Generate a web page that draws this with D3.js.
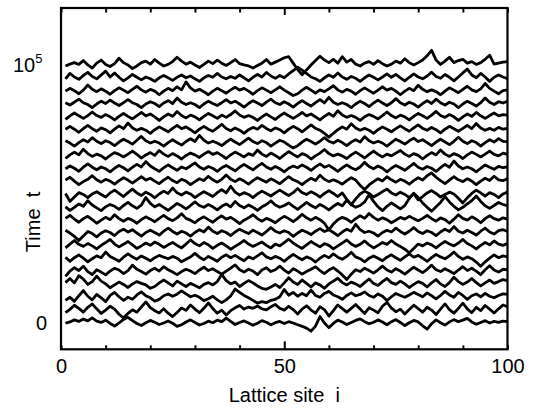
<!DOCTYPE html>
<html>
<head>
<meta charset="utf-8">
<script src="https://cdn.jsdelivr.net/npm/d3@7"></script>
<style>
  html, body { margin: 0; padding: 0; background: #fff; }
  svg { display: block; }
  text { font-family: "Liberation Sans", Arial, Helvetica, sans-serif; fill: #000; }
</style>
</head>
<body>
<svg id="chart" width="535" height="411"></svg>
<script>
// Lattice sites along the interface
const sites = d3.range(1, 101);

// Sampling times (units of 10^3), one profile per time
const times = [0, 5, 10, 15, 20, 25, 30, 35, 40, 45, 50, 55, 60, 65, 70, 75, 80, 85, 90, 95, 100];

// Interface height profiles h_i(t) (units of 10^3), drawn offset by their sampling time
const h0 = [0.3,0.8,1.6,1.0,1.9,1.2,2.4,1.1,0.6,1.5,0.2,-0.8,0.4,1.8,2.6,1.3,0.2,-0.6,0.5,1.4,
0.7,-0.2,0.4,1.2,0.3,-0.9,-0.3,0.8,1.6,0.6,-0.4,0.2,1.1,0.5,1.5,0.9,2.3,1.0,-0.2,0.6,
1.2,0.4,-0.5,0.3,1.3,0.7,-0.3,0.5,1.0,0.2,0.9,0.4,-0.3,-0.9,-1.6,-2.8,-0.8,2.9,0.4,-1.4,
0.2,1.5,0.8,-0.2,0.6,1.4,2.0,0.9,0.1,0.7,1.6,0.8,-0.3,0.9,1.7,0.6,-0.6,0.5,1.4,0.8,
-0.7,-2.0,0.1,1.6,0.5,-0.4,0.8,1.7,0.9,1.5,2.2,0.8,-0.1,0.6,1.3,0.4,1.0,0.6,1.1,0.9];
const h5 = [-0.6,0.7,2.3,1.1,-0.4,1.5,2.8,0.9,-0.9,0.4,1.9,0.8,-1.2,-2.6,-0.9,0.5,-0.4,1.6,3.6,1.4,
0.2,-0.7,0.9,-0.8,-2.1,-0.5,1.2,0.3,2.4,0.8,-0.6,1.1,3.2,1.0,-0.8,0.4,-1.5,0.2,1.3,2.2,
0.8,1.6,1.1,2.0,0.9,0.5,1.7,2.6,1.1,0.4,1.9,0.6,-1.1,0.8,2.1,0.4,-0.8,1.7,0.6,-1.9,
0.2,2.4,1.0,-0.4,1.1,2.6,0.8,-0.9,1.3,0.4,-0.6,1.9,3.4,1.2,-0.2,0.8,-1.1,0.6,2.3,1.0,
-0.4,1.5,0.4,-1.3,0.8,2.8,0.6,-0.8,1.1,3.1,0.9,-0.6,1.5,0.2,2.2,0.8,-0.7,0.9,2.4,1.7];
const h10 = [-0.8,0.4,-1.2,1.0,3.0,0.8,-0.6,1.5,0.2,-1.3,1.1,2.3,0.6,-0.8,0.4,-0.4,1.3,2.5,1.0,0.2,
-1.1,-0.4,1.0,1.7,0.8,1.6,2.9,1.7,0.6,1.2,0.4,-0.9,-0.2,0.8,-0.6,-1.7,-0.6,0.9,3.6,2.3,
1.1,0.2,-0.8,-1.9,-1.3,-1.7,-0.8,-0.4,0.6,3.4,1.2,2.3,0.8,1.9,1.0,3.2,1.1,0.4,1.9,2.7,
1.3,0.6,-0.4,1.1,2.1,1.0,1.5,2.5,1.1,0.4,1.7,0.8,-0.9,0.6,1.9,1.1,0.4,1.3,2.3,1.5,
0.6,2.1,1.0,-0.2,1.1,2.7,1.3,0.4,2.3,1.1,-0.4,1.0,1.7,0.6,1.9,0.8,0.2,1.1,1.7,1.5];
const h15 = [1.1,2.7,1.0,3.8,2.5,0.4,1.5,3.6,1.7,0.6,-0.9,0.2,1.3,0.4,-0.8,0.6,1.5,0.8,0.2,-1.1,
-0.4,1.0,2.1,1.0,-0.2,1.7,0.6,-0.4,0.8,0.0,-0.9,0.4,1.1,0.2,1.5,4.3,1.9,0.6,1.3,-0.4,
0.8,1.9,1.0,-0.2,-1.1,-1.5,-0.6,0.4,-0.8,1.0,3.0,1.3,0.4,2.1,0.8,-0.6,1.0,0.2,-1.1,0.6,
1.7,2.8,1.1,0.2,1.3,0.6,-0.4,1.1,2.5,0.8,0.0,1.5,2.7,1.1,0.4,1.7,0.6,-0.8,0.4,1.5,
0.8,-0.6,1.0,2.3,0.6,-0.4,1.1,3.2,1.5,0.4,1.3,2.7,1.1,-0.2,1.0,2.1,0.8,1.5,2.3,1.9];
const h20 = [-1.5,0.6,1.9,0.8,2.5,0.4,-0.8,1.1,0.2,-0.9,0.6,1.7,1.0,-0.4,0.8,2.9,1.3,0.4,-0.6,0.8,
1.7,0.6,2.3,1.1,0.2,-0.8,0.4,1.3,0.6,-0.4,1.0,2.1,0.8,1.5,0.4,-0.6,0.6,1.7,3.0,1.1,
0.2,1.3,0.6,-0.8,1.0,1.9,0.4,1.1,2.5,1.0,-0.2,1.5,0.6,-0.6,0.4,1.3,2.3,0.8,-0.4,1.0,
1.9,0.6,-0.9,-2.7,-0.6,1.1,0.4,1.7,0.8,-0.2,1.1,2.5,1.0,0.2,1.5,0.6,-0.6,0.8,2.1,1.0,
0.0,1.3,2.9,1.1,0.4,1.5,0.6,-0.4,1.0,2.3,0.8,1.7,0.6,-0.8,1.1,2.7,1.0,0.2,1.3,1.1];
const h25 = [1.0,-0.6,0.8,1.9,0.6,-0.8,0.4,1.5,0.8,3.0,1.3,0.4,-0.6,1.0,2.3,1.1,0.2,1.5,0.6,-0.4,
0.8,1.7,1.0,0.4,1.3,0.6,-0.8,0.2,1.1,2.5,1.0,0.0,1.3,0.4,-0.6,1.0,1.9,0.8,1.7,0.6,
-0.4,1.1,0.4,1.5,2.7,1.1,0.4,1.3,0.6,-0.6,0.8,2.1,1.0,0.0,1.1,0.4,-0.9,0.6,1.7,0.8,
2.3,1.0,0.2,1.3,2.9,1.1,0.4,-0.8,0.6,1.5,0.6,-0.4,1.0,1.9,0.8,-0.2,1.1,2.3,1.0,1.7,
0.6,-0.6,0.8,2.1,1.1,0.4,1.5,3.0,1.3,0.2,1.1,0.4,-0.9,-2.5,-0.8,0.6,1.9,0.8,1.5,1.1];
const h30 = [-0.4,1.1,2.5,1.0,0.2,1.3,0.4,-0.8,0.6,1.7,2.9,1.1,0.0,1.0,2.1,0.8,-0.6,0.4,1.5,0.6,
1.9,1.0,-0.2,0.8,1.7,0.6,-0.4,1.1,2.7,1.3,0.4,1.7,0.8,-0.6,0.6,1.5,0.4,-0.9,0.2,1.3,
2.5,1.1,0.2,1.0,1.9,0.6,-0.4,1.1,0.4,1.7,3.0,1.5,0.4,-0.6,0.8,2.1,1.0,0.0,1.3,0.6,
-0.8,0.4,1.5,2.7,1.1,0.2,1.0,2.3,0.8,-0.4,0.6,1.7,1.0,2.5,1.1,0.2,-0.9,-2.3,-0.6,1.1,
0.4,1.5,0.8,-0.4,1.0,2.1,1.1,0.4,1.5,2.9,1.3,0.4,-0.8,0.6,1.7,0.8,2.3,1.1,0.6,1.3];
const h35 = [1.5,0.4,-0.9,-2.5,-0.8,1.0,0.2,-1.1,0.4,1.3,0.6,-0.6,1.0,1.9,0.8,1.7,0.4,-0.8,0.6,1.5,
0.6,-0.4,1.1,2.3,1.0,0.0,1.1,0.4,-0.8,0.6,1.7,0.8,2.7,1.1,0.2,1.3,0.6,-0.6,0.8,1.9,
1.0,0.2,1.5,0.6,-0.4,1.0,2.5,1.1,0.4,1.3,0.6,-0.9,0.4,1.5,0.8,-0.2,1.1,2.1,1.0,1.7,
0.6,-0.6,0.8,1.9,1.1,3.8,1.7,0.6,1.1,0.4,-0.8,0.6,1.5,0.8,2.3,1.0,0.0,1.1,2.5,1.0,
0.2,1.3,0.6,-0.6,0.8,1.9,1.0,2.9,1.1,0.4,1.5,0.6,-0.4,1.1,2.3,0.8,0.0,1.3,1.7,1.0];
const h40 = [1.1,2.3,0.8,-0.4,1.0,1.9,0.6,-0.8,0.4,1.5,0.6,2.5,1.0,0.0,1.1,0.4,-0.8,0.6,1.7,0.8,
-0.2,1.1,2.3,1.0,0.2,1.3,2.9,1.1,0.4,-0.6,0.8,1.7,0.6,-0.4,1.0,2.1,0.8,1.5,0.4,-0.9,
0.4,1.3,2.5,1.0,0.0,1.1,0.4,-0.6,0.8,1.9,1.0,-0.2,1.1,2.7,1.3,0.4,1.5,0.6,-0.8,-3.4,
-1.1,0.6,1.5,0.8,-0.4,1.0,2.1,1.1,3.0,1.5,0.4,1.3,0.6,-0.6,0.4,1.5,0.8,1.9,1.0,0.2,
1.1,2.3,1.0,0.0,1.3,0.6,-0.8,0.8,2.5,1.1,0.4,1.7,0.8,-0.6,1.0,2.1,1.0,0.4,1.3,0.8];
const h45 = [0.6,-0.8,0.4,1.7,0.8,3.0,1.3,0.2,-0.9,0.6,1.5,0.8,-0.4,1.1,2.3,1.0,0.0,1.3,4.2,1.9,
0.6,1.5,0.4,-0.8,0.6,1.9,1.0,-0.2,1.1,2.5,1.1,0.4,1.5,0.6,-0.6,0.8,1.7,0.6,2.7,1.1,
0.2,1.3,0.4,-0.8,0.6,1.5,2.9,1.3,0.4,1.1,2.1,0.8,-0.4,1.0,2.3,1.1,0.2,1.5,0.6,-0.6,
0.8,1.9,1.0,3.2,1.5,0.4,1.1,2.5,5.3,2.7,0.6,-0.9,0.8,2.1,1.0,-0.2,1.1,3.8,5.9,4.2,
2.1,0.4,-1.1,0.6,2.3,4.6,2.5,0.8,-0.6,0.4,1.7,3.0,4.8,2.7,1.0,0.0,1.1,2.3,1.5,1.0];
const h50 = [0.8,-2.3,-0.6,1.1,0.4,-0.8,0.6,1.5,0.4,-0.6,1.0,2.1,0.8,-0.4,1.1,2.5,1.0,0.0,1.3,0.4,
-0.9,0.6,1.7,0.8,2.9,1.1,0.2,1.3,0.6,-0.8,0.4,1.5,0.6,-0.4,1.1,2.3,1.0,3.6,1.3,0.2,
1.1,0.4,-0.8,0.6,1.7,0.8,-0.2,1.0,2.1,1.0,0.0,1.1,2.7,1.1,0.4,1.5,0.6,-0.6,0.8,1.9,
0.8,-0.4,1.0,-1.5,-3.6,-1.3,0.6,1.7,0.8,-0.6,0.4,1.5,2.5,1.0,0.2,1.3,0.4,-0.8,0.6,-1.7,
-0.4,1.0,1.9,0.8,-0.6,0.4,1.3,0.6,-1.1,-2.9,-0.9,0.8,2.1,1.0,-0.2,1.1,0.4,-0.8,0.6,1.3];
const h55 = [1.0,2.1,0.6,-0.8,0.4,1.3,2.7,1.1,0.2,1.3,0.6,-0.6,0.8,1.9,1.0,-0.2,1.1,2.3,1.0,1.7,
0.6,-0.4,1.0,2.1,0.8,0.0,1.3,0.6,-0.8,0.4,1.5,0.8,2.5,1.1,0.2,1.3,3.0,1.3,0.4,1.5,
0.6,-0.6,0.8,1.9,1.0,0.2,1.5,0.6,-0.4,1.0,2.3,1.1,0.4,-0.8,0.6,1.7,0.8,2.9,1.3,0.4,
1.1,0.4,-0.6,0.8,1.9,1.0,-1.1,-2.7,-0.9,0.4,1.5,0.6,2.3,1.1,0.2,1.3,0.6,-0.6,0.8,1.9,
1.0,2.7,3.8,2.1,0.8,-0.4,1.0,2.3,1.1,0.4,1.5,0.6,-0.8,0.6,1.7,0.8,2.5,1.1,0.8,1.5];
const h60 = [0.4,1.5,0.6,-0.6,1.0,2.3,1.0,0.0,1.1,0.4,-0.8,0.6,1.7,0.8,-0.4,1.0,2.1,1.1,3.2,1.5,
0.4,-0.6,0.8,1.9,0.8,-0.2,1.1,0.4,1.5,2.7,1.1,0.2,1.3,0.6,-0.6,0.8,1.7,0.6,-0.4,1.0,
2.1,1.0,0.0,1.3,2.5,1.1,0.2,1.3,0.4,-0.8,0.6,1.5,0.8,1.9,1.0,-0.2,1.1,2.3,1.0,1.7,
0.6,-0.6,0.8,1.9,0.8,0.0,1.1,2.9,1.3,0.4,1.5,0.6,-0.8,0.6,1.7,0.8,-0.2,1.1,2.5,1.0,
0.2,1.3,0.6,-0.6,0.8,2.1,1.0,3.4,1.5,0.4,1.1,0.4,-0.8,0.6,1.9,1.0,0.2,1.3,0.8,1.1];
const h65 = [-0.6,0.8,1.9,0.8,3.0,1.3,0.2,1.1,0.4,-0.8,0.6,1.7,1.0,0.0,1.1,2.3,1.0,-0.4,0.8,1.7,
0.6,2.5,1.1,0.2,1.3,0.4,-0.8,0.6,1.5,0.8,-0.2,1.1,2.1,1.0,1.7,0.6,-0.6,0.8,1.9,1.0,
0.0,1.3,0.6,2.7,1.1,0.2,1.5,0.6,-0.6,0.8,2.1,1.0,0.0,1.3,0.6,-0.8,0.4,1.5,2.9,1.3,
0.4,1.1,0.4,-0.6,0.8,1.9,0.8,-0.4,1.0,2.3,1.0,0.0,1.1,0.4,1.5,2.5,1.1,0.2,1.3,0.6,
-0.8,0.6,1.7,0.8,2.7,1.1,0.2,1.3,0.6,-0.6,0.8,1.9,1.0,0.0,1.1,2.3,1.0,0.4,1.5,1.0];
const h70 = [1.3,0.4,-0.8,0.6,1.7,0.8,2.5,1.1,0.2,1.3,0.6,-0.6,0.8,1.9,1.0,0.0,1.5,3.0,1.3,0.4,
1.1,0.4,-0.8,0.6,1.7,0.6,-0.4,1.0,2.1,1.0,3.4,1.5,0.4,1.1,0.4,-0.6,0.8,1.9,0.8,-0.2,
1.1,2.3,1.0,0.2,1.3,0.6,-0.8,0.4,1.5,0.8,-0.4,-1.5,-0.6,0.8,1.9,1.0,0.0,1.1,2.5,1.1,
0.4,1.5,0.6,-0.6,0.8,1.7,0.8,2.9,1.3,0.4,1.1,0.4,-0.8,0.6,1.9,1.0,0.0,1.3,2.3,1.0,
1.7,0.6,-0.6,0.8,1.9,0.8,-0.2,1.1,2.7,1.1,0.2,1.3,0.6,-0.8,0.6,1.7,0.8,2.1,1.1,1.0];
const h75 = [0.8,1.9,0.8,-0.4,1.0,2.3,1.0,0.0,1.3,0.6,-0.6,0.8,2.1,1.0,3.2,1.3,0.4,1.1,0.4,-0.8,
0.6,1.7,0.8,-0.2,1.1,2.3,1.0,1.7,0.6,-0.6,0.8,1.9,0.8,0.0,1.3,2.7,1.1,0.2,1.3,0.4,
-0.8,0.6,1.5,0.8,2.3,1.1,0.2,1.3,0.6,-0.6,0.8,1.9,1.0,-0.2,1.1,2.5,1.1,0.4,-0.8,-2.3,
-0.8,0.6,1.7,0.8,2.9,1.3,0.4,1.1,0.4,-0.8,0.6,1.7,0.8,-0.2,1.0,2.1,1.0,0.0,1.3,2.5,
1.1,0.4,1.5,0.6,-0.6,0.8,1.9,1.0,0.0,1.1,2.3,1.0,3.0,1.3,0.4,1.1,0.4,1.5,0.8,1.1];
const h80 = [-0.4,1.0,2.1,1.0,0.0,1.1,2.5,1.1,0.4,1.5,0.6,-0.6,0.8,1.9,0.8,-0.2,1.1,2.3,1.0,1.7,
0.6,-0.8,0.6,1.7,0.8,2.7,1.1,0.2,1.3,0.6,-0.6,0.8,1.9,1.0,0.0,1.3,0.4,1.5,2.9,1.3,
0.4,1.1,0.4,-0.8,0.6,1.7,0.6,-0.4,1.0,2.1,1.0,0.0,1.1,2.3,1.0,1.7,0.6,-0.6,0.8,1.9,
0.8,3.0,1.3,0.4,1.1,0.4,-0.8,0.6,1.5,0.8,-0.2,1.1,2.5,1.1,0.2,1.3,0.6,-0.6,0.8,1.9,
1.0,0.0,1.3,2.7,1.1,0.4,1.5,0.6,-0.8,0.6,1.7,0.8,2.3,1.0,0.0,1.1,2.1,1.0,1.5,1.3];
const h85 = [1.1,0.2,1.3,2.5,1.1,0.4,-0.8,0.6,1.7,0.8,2.1,1.0,0.0,1.1,2.3,1.1,0.4,-0.8,0.6,1.5,
0.8,-0.4,1.0,1.9,0.8,2.9,1.3,0.4,1.1,0.4,-0.8,0.6,1.7,0.8,0.0,1.1,2.3,1.0,1.7,0.6,
-0.6,0.8,1.9,1.0,0.0,1.3,2.5,1.1,0.4,1.5,0.6,-0.6,0.8,1.9,0.8,-0.2,1.1,2.3,1.0,3.2,
1.3,0.4,1.1,0.4,-0.8,0.6,1.7,0.8,-0.4,1.0,2.1,1.0,0.0,1.1,2.7,1.1,0.2,1.3,0.6,-0.6,
0.8,1.9,0.8,2.5,1.1,0.2,1.3,0.6,-0.8,0.6,1.7,0.8,-0.2,1.1,2.9,1.3,0.4,1.5,1.0,1.7];
const h90 = [0.6,1.7,0.8,-0.4,1.0,3.0,1.3,0.4,1.5,0.6,-0.6,0.8,1.9,1.0,0.0,1.3,2.5,1.1,0.2,1.3,
0.6,-0.8,0.6,1.7,0.8,2.3,1.1,4.2,1.9,0.6,1.3,0.4,-0.8,0.6,1.7,0.8,-0.2,1.1,2.1,1.0,
1.7,0.6,-0.6,0.8,1.9,1.0,0.0,1.1,2.3,1.0,0.0,-1.1,-0.4,1.0,2.1,1.0,-0.2,1.1,0.4,1.5,
2.7,1.1,0.2,1.3,0.6,-0.6,0.8,1.9,0.8,-0.2,1.0,2.3,1.0,1.7,0.6,-0.8,0.6,1.7,0.8,2.9,
1.3,0.4,1.1,0.4,-0.8,0.6,1.9,1.0,0.0,1.3,2.5,1.1,0.4,1.5,3.6,1.7,0.6,-0.4,0.8,1.1];
const h95 = [0.4,2.5,1.1,0.2,1.7,2.9,1.3,0.4,1.9,3.4,1.1,2.7,1.0,-0.4,0.8,2.1,1.0,0.0,1.1,0.4,
-0.6,0.8,1.7,0.8,-0.2,1.0,1.9,0.8,1.5,0.4,-0.6,0.8,1.7,1.0,2.5,1.1,0.4,1.3,0.6,1.9,
0.8,-0.4,1.0,2.1,1.1,2.9,1.5,0.6,1.7,0.8,2.3,3.6,4.9,3.8,2.5,1.1,0.4,-0.6,0.8,1.9,
1.0,2.7,1.1,0.2,1.3,0.6,-0.6,0.8,1.9,1.0,0.0,1.1,2.3,1.0,2.1,0.8,-0.4,1.0,2.3,1.1,
0.4,1.5,3.0,1.3,0.6,2.1,1.0,-0.4,1.1,2.7,4.2,1.9,0.8,2.5,1.1,-0.6,1.0,1.9,1.1,0.4];
const h100 = [0.4,1.1,1.7,1.0,2.5,0.8,-0.4,1.5,2.7,1.0,0.2,1.3,3.4,1.7,0.8,-0.6,0.4,1.7,2.3,1.1,
2.9,1.5,0.4,1.0,2.1,3.8,2.3,1.1,1.9,0.8,-0.2,1.0,2.3,1.3,2.7,1.5,0.6,1.7,2.9,1.3,
0.8,0.4,-0.4,0.6,1.5,2.9,1.1,1.9,2.7,3.6,4.0,1.5,-1.0,-3.0,-1.1,0.8,2.5,4.2,2.7,1.7,
3.0,1.5,4.0,1.9,2.9,1.1,0.4,1.5,2.1,1.0,2.5,1.3,0.4,1.1,2.3,1.5,3.2,1.7,0.8,1.7,
2.7,4.4,6.5,2.7,1.0,2.3,3.8,1.7,2.5,3.0,1.5,2.1,1.0,1.7,3.0,4.6,1.1,1.5,1.9,2.1];

const profiles = [h0, h5, h10, h15, h20, h25, h30, h35, h40, h45, h50,
                  h55, h60, h65, h70, h75, h80, h85, h90, h95, h100];

// Axis ticks and labels
const xTicks = [0, 10, 20, 30, 40, 50, 60, 70, 80, 90, 100];
const xLabelled = [0, 50, 100];
const yLabelled = [0, 100];

const svg = d3.select("#chart");

const frame = { left: 61, right: 507.5, top: 8, bottom: 349.3 };

const x = d3.scaleLinear().domain([0, 100]).range([frame.left, frame.right]);
const y = d3.scaleLinear().domain([0, 100]).range([324, 67]);

// Profile lines, each lifted by its sampling time
const series = times.map((t, k) => profiles[k].map(h => ({ t, h })));

const profileLine = d3.line()
  .x((p, i) => x(sites[i]))
  .y(p => y(p.t + p.h));

svg.append("g")
  .selectAll("path")
  .data(series)
  .join("path")
  .attr("d", profileLine)
  .attr("fill", "none")
  .attr("stroke", "#000")
  .attr("stroke-width", 2.8)
  .attr("stroke-linejoin", "round")
  .attr("stroke-linecap", "butt");

// Bottom axis: inward ticks, labels at 0, 50, 100
const bottomAxis = svg.append("g")
  .attr("transform", `translate(0,${frame.bottom})`)
  .call(d3.axisBottom(x)
    .tickValues(xTicks)
    .tickSize(-4)
    .tickPadding(10)
    .tickFormat(d => xLabelled.includes(d) ? d : ""));
bottomAxis.select(".domain").remove();
bottomAxis.selectAll(".tick line").attr("stroke", "#000").attr("stroke-width", 2)
  .attr("y2", d => d === 50 ? -8 : -4);
bottomAxis.selectAll(".tick text").attr("font-size", 20).attr("fill", "#000")
  .style("font-family", '"Liberation Sans", Arial, Helvetica, sans-serif');

// Top axis: inward ticks only
const topAxis = svg.append("g")
  .attr("transform", `translate(0,${frame.top})`)
  .call(d3.axisTop(x)
    .tickValues(xTicks)
    .tickSize(-4)
    .tickFormat(""));
topAxis.select(".domain").remove();
topAxis.selectAll(".tick line").attr("stroke", "#000").attr("stroke-width", 2)
  .attr("y2", d => d === 50 ? 7 : 4.5);

// Left axis labels: 0 and 10^5
const leftLabels = svg.append("g");
leftLabels.append("text")
  .attr("x", 47)
  .attr("y", y(yLabelled[0]))
  .attr("dy", "0.3em")
  .attr("text-anchor", "end")
  .attr("font-size", 20)
  .text("0");
const pow = leftLabels.append("text")
  .attr("x", 13)
  .attr("y", y(yLabelled[1]) + 5)
  .attr("font-size", 20);
pow.append("tspan").text("10");
pow.append("tspan").attr("font-size", 13).attr("dy", -9.5).text("5");

// Plot frame
svg.append("rect")
  .attr("x", frame.left)
  .attr("y", frame.top)
  .attr("width", frame.right - frame.left)
  .attr("height", frame.bottom - frame.top)
  .attr("fill", "none")
  .attr("stroke", "#000")
  .attr("stroke-width", 2.2);

// Axis titles
svg.append("text")
  .attr("x", (frame.left + frame.right) / 2)
  .attr("y", 402)
  .attr("text-anchor", "middle")
  .attr("font-size", 20)
  .style("white-space", "pre")
  .text("Lattice site  i");

svg.append("text")
  .attr("transform", "translate(40,222) rotate(-90)")
  .attr("text-anchor", "middle")
  .attr("font-size", 20)
  .style("white-space", "pre")
  .text("Time  t");
</script>
</body>
</html>
